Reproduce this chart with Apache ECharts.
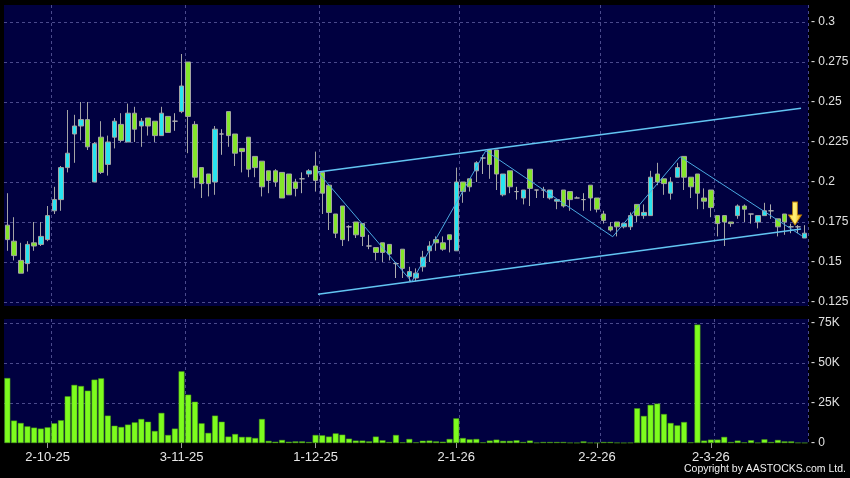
<!DOCTYPE html>
<html><head><meta charset="utf-8">
<script src="https://cdn.jsdelivr.net/npm/echarts@6/dist/echarts.min.js"></script>
<style>html,body{margin:0;padding:0;background:#000;}#c{width:850px;height:478px;}</style>
</head><body><div id="c"></div>
<script>
// ---- data ----
const dates = [
'23-9-25','24-9-25','25-9-25','26-9-25','29-9-25','30-9-25',
'2-10-25','3-10-25','6-10-25','8-10-25','9-10-25','10-10-25','13-10-25','14-10-25','15-10-25','16-10-25','17-10-25','20-10-25','21-10-25','22-10-25','23-10-25','24-10-25','27-10-25','28-10-25','30-10-25','31-10-25',
'3-11-25','4-11-25','5-11-25','6-11-25','7-11-25','10-11-25','11-11-25','12-11-25','13-11-25','14-11-25','17-11-25','18-11-25','19-11-25','20-11-25','21-11-25','24-11-25','25-11-25','26-11-25','27-11-25','28-11-25',
'1-12-25','2-12-25','3-12-25','4-12-25','5-12-25','8-12-25','9-12-25','10-12-25','11-12-25','12-12-25','15-12-25','16-12-25','17-12-25','18-12-25','19-12-25','22-12-25','23-12-25','24-12-25','29-12-25','30-12-25','31-12-25',
'2-1-26','5-1-26','6-1-26','7-1-26','8-1-26','9-1-26','12-1-26','13-1-26','14-1-26','15-1-26','16-1-26','19-1-26','20-1-26','21-1-26','22-1-26','23-1-26','26-1-26','27-1-26','28-1-26','29-1-26','30-1-26',
'2-2-26','3-2-26','4-2-26','5-2-26','6-2-26','9-2-26','10-2-26','11-2-26','12-2-26','13-2-26','16-2-26','20-2-26','23-2-26','24-2-26','25-2-26','26-2-26','27-2-26',
'2-3-26','3-3-26','4-3-26','5-3-26','6-3-26','9-3-26','10-3-26','11-3-26','12-3-26','13-3-26','16-3-26','17-3-26','18-3-26','19-3-26','20-3-26'];

const opens = [
0.173,0.163,0.151,0.149,0.162,0.161,0.164,0.182,0.189,0.209,
0.230,0.235,0.239,0.200,0.228,0.211,0.228,0.236,0.225,0.243,
0.235,0.240,0.238,0.229,0.241,0.238,0.244,0.275,0.236,0.209,
0.205,0.200,0.230,0.244,0.230,0.221,0.228,0.216,0.213,0.207,
0.207,0.206,0.205,0.200,0.202,0.205,0.210,0.206,0.198,0.180,
0.185,0.172,0.175,0.174,0.160,0.159,0.162,0.161,0.149,0.158,
0.141,0.140,0.147,0.157,0.164,0.162,0.167,0.157,0.200,0.202,
0.207,0.215,0.220,0.220,0.192,0.207,0.194,0.190,0.208,0.195,
0.195,0.190,0.188,0.195,0.194,0.190,0.189,0.198,0.190,0.180,
0.172,0.175,0.172,0.172,0.186,0.179,0.179,0.205,0.202,0.193,
0.203,0.216,0.203,0.205,0.190,0.195,0.179,0.179,0.175,0.179,
0.185,0.180,0.175,0.179,0.182,0.177,0.180,0.172,0.172,0.165];
const highs = [
0.193,0.178,0.162,0.163,0.175,0.175,0.185,0.197,0.210,0.245,
0.242,0.250,0.250,0.225,0.238,0.229,0.240,0.243,0.249,0.247,
0.240,0.240,0.238,0.247,0.241,0.243,0.280,0.275,0.238,0.209,
0.205,0.235,0.233,0.244,0.230,0.221,0.228,0.216,0.213,0.207,
0.208,0.206,0.205,0.202,0.206,0.208,0.219,0.206,0.198,0.180,
0.185,0.173,0.175,0.174,0.167,0.159,0.162,0.161,0.150,0.158,
0.147,0.146,0.157,0.163,0.166,0.166,0.167,0.209,0.200,0.202,
0.213,0.217,0.220,0.220,0.205,0.207,0.197,0.195,0.208,0.195,
0.197,0.195,0.189,0.195,0.194,0.191,0.193,0.198,0.190,0.182,
0.175,0.175,0.174,0.181,0.186,0.186,0.207,0.212,0.202,0.203,
0.212,0.216,0.203,0.205,0.196,0.195,0.179,0.179,0.175,0.186,
0.186,0.180,0.179,0.187,0.186,0.177,0.180,0.174,0.173,0.173];
const lows = [
0.157,0.151,0.143,0.144,0.157,0.160,0.163,0.180,0.182,0.206,
0.212,0.226,0.220,0.200,0.205,0.204,0.221,0.225,0.225,0.225,
0.222,0.229,0.225,0.229,0.231,0.232,0.243,0.218,0.196,0.190,
0.191,0.192,0.217,0.222,0.210,0.206,0.203,0.203,0.191,0.193,
0.197,0.190,0.192,0.191,0.193,0.203,0.194,0.180,0.170,0.165,
0.160,0.163,0.165,0.160,0.158,0.151,0.150,0.151,0.140,0.140,
0.138,0.138,0.144,0.150,0.157,0.157,0.156,0.157,0.187,0.194,
0.200,0.205,0.202,0.195,0.191,0.193,0.189,0.186,0.185,0.190,
0.190,0.189,0.183,0.184,0.182,0.190,0.182,0.182,0.181,0.174,
0.169,0.166,0.171,0.170,0.175,0.177,0.179,0.198,0.192,0.189,
0.203,0.195,0.190,0.183,0.183,0.178,0.166,0.160,0.172,0.177,
0.175,0.174,0.171,0.179,0.177,0.166,0.167,0.168,0.168,0.165];
const closes = [
0.164,0.154,0.143,0.161,0.160,0.166,0.179,0.189,0.209,0.218,
0.235,0.239,0.222,0.224,0.206,0.225,0.238,0.226,0.243,0.233,
0.238,0.235,0.229,0.243,0.231,0.238,0.260,0.241,0.203,0.199,
0.199,0.233,0.230,0.229,0.218,0.219,0.208,0.209,0.197,0.201,
0.200,0.190,0.192,0.196,0.202,0.207,0.201,0.193,0.181,0.168,
0.164,0.172,0.167,0.166,0.160,0.156,0.156,0.155,0.149,0.146,
0.144,0.143,0.153,0.160,0.162,0.158,0.164,0.200,0.194,0.197,
0.212,0.215,0.211,0.205,0.205,0.197,0.194,0.195,0.196,0.195,
0.195,0.195,0.189,0.185,0.189,0.190,0.189,0.190,0.183,0.176,
0.170,0.172,0.174,0.179,0.179,0.181,0.203,0.200,0.199,0.200,
0.209,0.203,0.197,0.193,0.188,0.184,0.174,0.175,0.174,0.185,
0.183,0.180,0.179,0.182,0.182,0.172,0.175,0.172,0.172,0.168];
const volumes = [
40600,14000,12500,10400,9600,9000,9800,12300,14200,29200,
36300,35600,32700,39600,40400,17100,10800,10000,11500,12900,
15000,13300,7500,18800,5000,9000,44800,30200,25800,12300,
6300,17100,13300,4000,5600,3800,3800,3100,15000,1300,
800,1900,800,1000,1000,600,5000,4800,4000,6000,
5200,2700,1500,1500,1000,4000,1700,600,5000,400,
2500,400,1400,1500,1000,800,2500,15400,3100,2300,
2500,400,1500,2100,1300,1300,1700,600,1500,200,
600,600,600,600,200,100,1000,200,100,600,
600,200,100,200,21700,16900,23800,24600,18100,12500,
11000,13100,400,74000,1500,2100,2100,3800,600,1500,
400,1700,200,2300,600,1900,1000,1000,200,100];

const dateTicks = ['2-10-25','3-11-25','1-12-25','2-1-26','2-2-26','2-3-26'];
const priceTicks = [0.125,0.15,0.175,0.2,0.225,0.25,0.275,0.3];
const volumeTicks = [0,25000,50000,75000];

// trend lines: [bar position, price]
const channelUpper = [[46.36,0.2063],[118.46,0.2461]];
const channelLower = [[46.36,0.1298],[118.46,0.1706]];
const zigzag = [[46.4,0.2060],[60.35,0.1377],[71.4,0.2195],[90.35,0.1658],[100.4,0.2158],[118.56,0.1664]];
const arrowMark = [[117.56,0.1803]];

// ---- chart ----
const NAVY = '#000040';
const GRIDC = '#4a4a8c';
const FONT = 'Liberation Sans';
const labelIdx = dateTicks.map(t => dates.indexOf(t));
const splitIdx = labelIdx.map(i => i + 1);
const candleData = dates.map((d, i) => [opens[i], closes[i], lows[i], highs[i]]);

// panel geometry (pixels)
const P_TOP = 5, P_BOTTOM = 306, P_LBL_TOP = 22, P_LBL_H = 280;
const V_TOP = 319, V_LBL_TOP = 323, V_LBL_H = 120;
const pMin = priceTicks[0], pMax = priceTicks[priceTicks.length - 1];
const pStep = priceTicks[1] - priceTicks[0];
const perPx = (pMax - pMin) / P_LBL_H;
const vMax = volumeTicks[volumeTicks.length - 1];
const vStep = volumeTicks[1] - volumeTicks[0];
const vPerPx = vMax / V_LBL_H;

const dashed = {color: GRIDC, type: [3, 3], width: 1};
const chart = echarts.init(document.getElementById('c'), null, {width: 850, height: 478});
chart.setOption({
  backgroundColor: '#000',
  animation: false,
  grid: [
    {left: 4, right: 42, top: P_TOP, height: P_BOTTOM - P_TOP, show: true, backgroundColor: NAVY, borderWidth: 0, outerBoundsMode: 'none'},
    {left: 4, right: 42, top: P_LBL_TOP, height: P_LBL_H, show: false, outerBoundsMode: 'none'},
    {left: 4, right: 42, top: V_TOP, height: V_LBL_TOP + V_LBL_H - V_TOP, show: true, backgroundColor: NAVY, borderWidth: 0, outerBoundsMode: 'none'},
    {left: 4, right: 42, top: V_LBL_TOP, height: V_LBL_H, show: false, outerBoundsMode: 'none'}
  ],
  xAxis: [
    {type: 'category', gridIndex: 0, data: dates, boundaryGap: true,
     axisLine: {show: false}, axisTick: {show: false}, axisLabel: {show: false},
     splitLine: {show: true, interval: (i) => splitIdx.includes(i), lineStyle: dashed}},
    {type: 'value', gridIndex: 1, show: false},
    {type: 'value', gridIndex: 0, show: false, min: -0.5, max: dates.length - 0.5},
    {type: 'category', gridIndex: 2, data: dates, boundaryGap: true,
     axisLine: {show: false},
     axisTick: {show: true, alignWithLabel: true, interval: (i) => labelIdx.includes(i), length: 5, lineStyle: {color: '#9a9a9a'}},
     axisLabel: {interval: (i) => labelIdx.includes(i), color: '#e8e8e8', fontFamily: FONT, fontSize: 13, margin: 8},
     splitLine: {show: true, interval: (i) => splitIdx.includes(i), lineStyle: dashed}},
    {type: 'value', gridIndex: 3, show: false}
  ],
  yAxis: [
    {type: 'value', gridIndex: 0, show: false,
     min: pMin - (P_BOTTOM - (P_LBL_TOP + P_LBL_H)) * perPx,
     max: pMax + (P_LBL_TOP - P_TOP) * perPx},
    {type: 'value', gridIndex: 1, position: 'right', min: pMin, max: pMax, interval: pStep,
     axisLine: {show: false}, axisTick: {show: false},
     axisLabel: {margin: 3, color: '#e0e0e0', fontFamily: FONT, fontSize: 12,
       formatter: (v) => '- ' + (+v.toFixed(3))},
     splitLine: {show: true, lineStyle: dashed}},
    {type: 'value', gridIndex: 2, show: false, min: 0,
     max: vMax + (V_LBL_TOP - V_TOP) * vPerPx},
    {type: 'value', gridIndex: 3, position: 'right', min: 0, max: vMax, interval: vStep,
     axisLine: {show: false}, axisTick: {show: false},
     axisLabel: {margin: 3, color: '#e0e0e0', fontFamily: FONT, fontSize: 12,
       formatter: (v) => '- ' + (v === 0 ? '0' : Math.round(v / 1000) + 'K')},
     splitLine: {show: true, showMinLine: false, lineStyle: dashed}}
  ],
  series: [
    {type: 'candlestick', xAxisIndex: 0, yAxisIndex: 0, data: candleData, barWidth: 5,
     itemStyle: {color: '#28e4f0', color0: '#84e62a', borderColor: '#a4a4a4', borderColor0: '#a4a4a4',
                 borderColorDoji: '#b0b0b0', borderWidth: 1}},
    {type: 'bar', xAxisIndex: 3, yAxisIndex: 2, data: volumes, barWidth: '88%',
     itemStyle: {color: '#7dfc1e', borderColor: '#4a9a14', borderWidth: 0.5}},
    {type: 'line', xAxisIndex: 2, yAxisIndex: 0, data: channelUpper, symbol: 'none', z: 4,
     lineStyle: {color: '#62c4f2', width: 1.5}},
    {type: 'line', xAxisIndex: 2, yAxisIndex: 0, data: channelLower, symbol: 'none', z: 4,
     lineStyle: {color: '#62c4f2', width: 1.5}},
    {type: 'line', xAxisIndex: 2, yAxisIndex: 0, data: zigzag, symbol: 'none', z: 4,
     lineStyle: {color: '#4aa8e0', width: 1}},
    {type: 'scatter', xAxisIndex: 2, yAxisIndex: 0, data: arrowMark, z: 5,
     symbol: 'path://M4,0L9,0L9,13L13,13L6.5,23L0,13L4,13Z', symbolSize: [13, 23],
     itemStyle: {color: new echarts.graphic.LinearGradient(0, 0, 1, 0, [
        {offset: 0, color: '#ffe040'}, {offset: 0.5, color: '#fff27a'}, {offset: 1, color: '#e8a400'}]),
       borderColor: '#c08000', borderWidth: 0.8, opacity: 1}}
  ],
  graphic: [
    {type: 'text', right: 4, top: 464, style: {text: 'Copyright by AASTOCKS.com Ltd.', fill: '#f0f0f0',
      font: '10.5px "Liberation Sans"'}}
  ]
});
</script></body></html>
